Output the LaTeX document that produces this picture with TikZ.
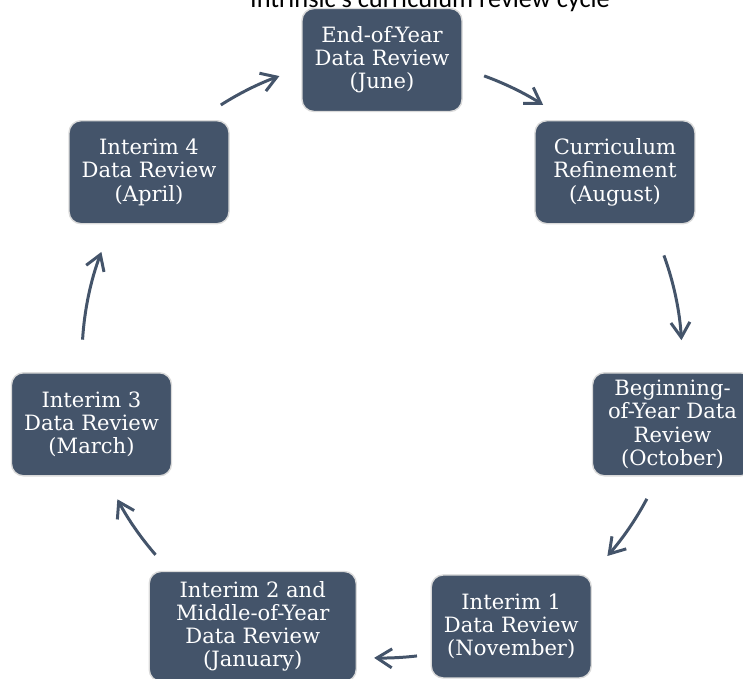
\documentclass[tikz,border=0pt]{standalone}
\usepackage{fontspec}
\setmainfont{DejaVu Serif}
\newfontfamily\titlefont{Carlito}
\usepackage{tikz}
\usetikzlibrary{calc}
\usetikzlibrary{arrows.meta}
\definecolor{slate}{HTML}{44546A}
\definecolor{rim}{HTML}{DADADA}
\tikzset{stagenode/.style={rectangle, rounded corners=2.4mm, draw=rim, line width=0.8pt, fill=slate, text=white, align=center, minimum width=3.2cm, minimum height=2.06cm, inner sep=1pt, font=\fontsize{12}{13.2}\selectfont}}
\tikzset{cyclearrow/.style={draw=slate, line width=1.7pt, -{Straight Barb[length=3mm, width=3.8mm]}}}

\begin{document}
\begin{tikzpicture}
    \useasboundingbox (0,0) rectangle (14.86,13.58);
    \coordinate (hub) at (7.64,6.42);

    \node[anchor=base, font=\titlefont\fontsize{15}{18}\selectfont] (title) at (8.6,13.42) {Intrinsic's curriculum review cycle};

    \node[stagenode]    (endyear)   at ($(hub)+(90:5.96)$)      {End-of-Year\\Data Review\\(June)};
    \node[stagenode]    (refine)    at ($(hub)+(38.57:5.96)$)   {Curriculum\\Refinement\\(August)};
    \node[stagenode]    (beginyear) at ($(hub)+(-12.86:5.96)$)  {Beginning-\\of-Year Data\\Review\\(October)};
    \node[stagenode]    (interimA)  at ($(hub)+(-64.29:5.96)$)  {Interim 1\\Data Review\\(November)};
    \node[stagenode, minimum width=4.14cm, minimum height=2.2cm]    (interimB)  at ($(hub)+(-115.71:5.96)$) {Interim 2 and\\Middle-of-Year\\Data Review\\(January)};
    \node[stagenode]    (interimC)  at ($(hub)+(-167.14:5.96)$) {Interim 3\\Data Review\\(March)};
    \node[stagenode]    (interimD)  at ($(hub)+(141.43:5.96)$)  {Interim 4\\Data Review\\(April)};

    \draw[cyclearrow] ([shift={(70.1:6)}]hub) arc[start angle=70.1, end angle=57.5, radius=6];
    \draw[cyclearrow] ([shift={(20:6)}]hub) arc[start angle=20, end angle=3.4, radius=6];
    \draw[cyclearrow] ([shift={(-28:6)}]hub) arc[start angle=-28, end angle=-41.3, radius=6];
    \draw[cyclearrow] ([shift={(-83.3:6)}]hub) arc[start angle=-83.3, end angle=-91.5, radius=6];
    \draw[cyclearrow] ([shift={(221:6)}]hub) arc[start angle=221, end angle=208.1, radius=6];
    \draw[cyclearrow] ([shift={(176.5:6)}]hub) arc[start angle=176.5, end angle=159.3, radius=6];
    \draw[cyclearrow] ([shift={(122.5:6)}]hub) arc[start angle=122.5, end angle=110, radius=6];
\end{tikzpicture}
\end{document}
